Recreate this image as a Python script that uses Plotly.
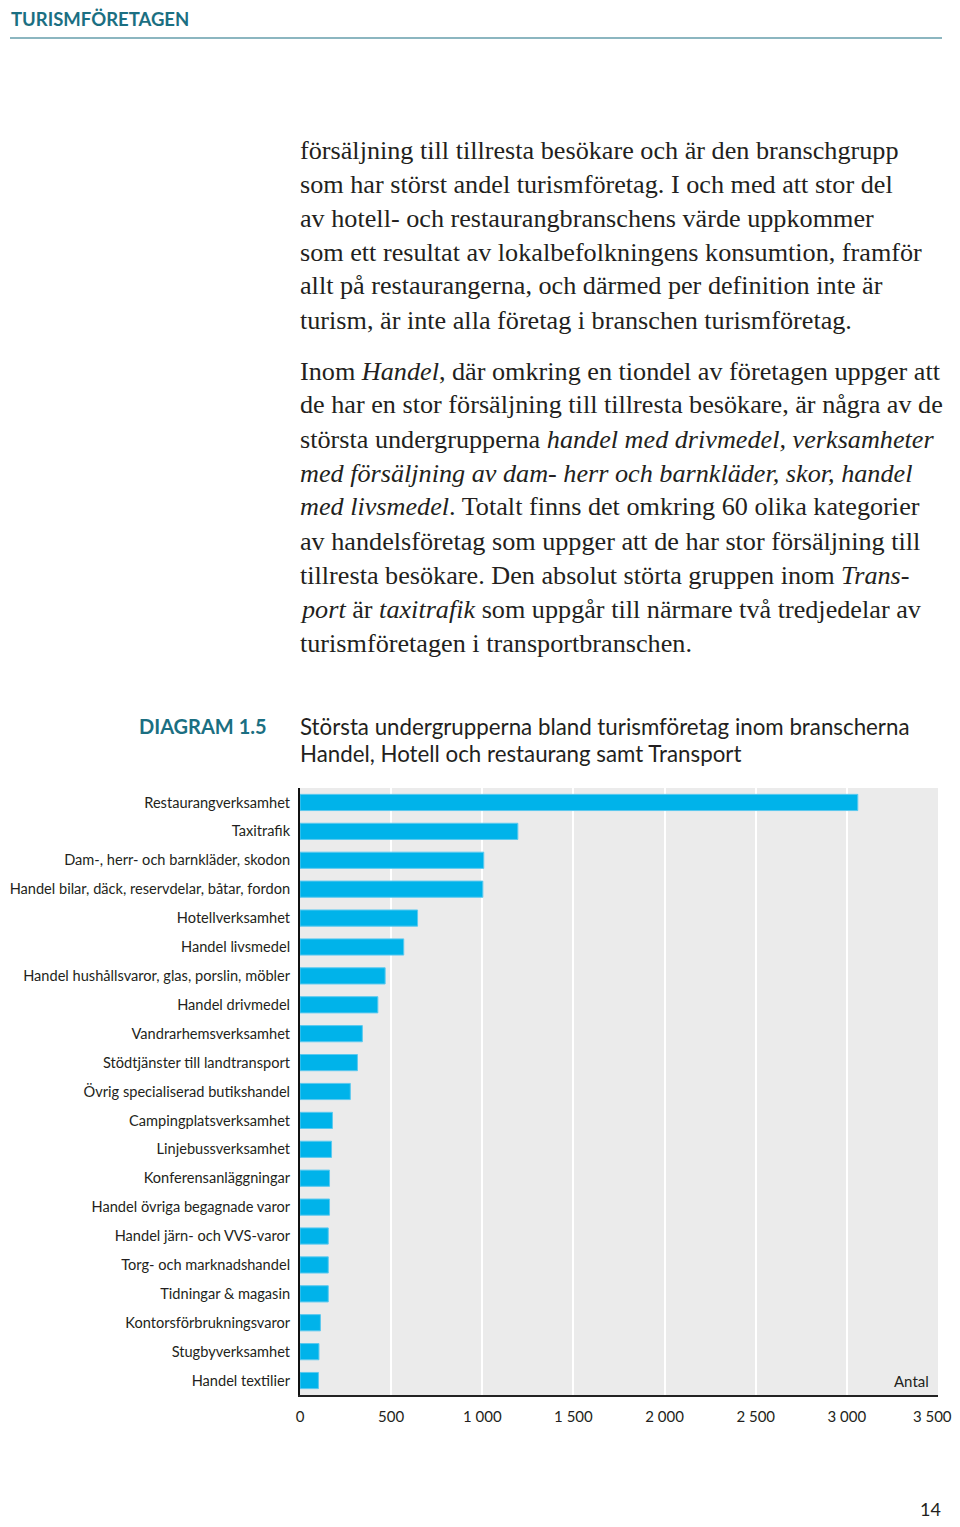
import plotly.graph_objects as go

categories = [
    "Restaurangverksamhet", "Taxitrafik", "Dam-, herr- och barnkläder, skodon",
    "Handel bilar, däck, reservdelar, båtar, fordon", "Hotellverksamhet",
    "Handel livsmedel", "Handel hushållsvaror, glas, porslin, möbler",
    "Handel drivmedel", "Vandrarhemsverksamhet", "Stödtjänster till landtransport",
    "Övrig specialiserad butikshandel", "Campingplatsverksamhet",
    "Linjebussverksamhet", "Konferensanläggningar", "Handel övriga begagnade varor",
    "Handel järn- och VVS-varor", "Torg- och marknadshandel", "Tidningar & magasin",
    "Kontorsförbrukningsvaror", "Stugbyverksamhet", "Handel textilier",
]
values = [3060, 1195, 1008, 1003, 645, 569, 467, 427, 342, 315, 276, 178, 173,
          162, 162, 155, 155, 155, 112, 104, 101]
tick_vals = [0, 500, 1000, 1500, 2000, 2500, 3000, 3500]
tick_text = ["0", "500", "1 000", "1 500", "2 000", "2 500", "3 000",
             "3 500&nbsp;&nbsp;&nbsp;"]

para1 = [
    "försäljning till tillresta besökare och är den branschgrupp",
    "som har störst andel turismföretag. I och med att stor del",
    "av hotell- och restaurangbranschens värde uppkommer",
    "som ett resultat av lokalbefolkningens konsumtion, framför",
    "allt på restaurangerna, och därmed per definition inte är",
    "turism, är inte alla företag i branschen turismföretag.",
]
para2 = [
    "Inom <i>Handel</i>, där omkring en tiondel av företagen uppger att",
    "de har en stor försäljning till tillresta besökare, är några av de",
    "största undergrupperna <i>handel med drivmedel, verksamheter</i>",
    "<i>med försäljning av dam- herr och barnkläder, skor, handel</i>",
    "<i>med livsmedel</i>. Totalt finns det omkring 60 olika kategorier",
    "av handelsföretag som uppger att de har stor försäljning till",
    "tillresta besökare. Den absolut störta gruppen inom <i>Trans-</i>",
    "<i>port</i> är <i>taxitrafik</i> som uppgår till närmare två tredjedelar av",
    "turismföretagen i transportbranschen.",
]
header = "TURISMFÖRETAGEN"
diagram_label = "DIAGRAM 1.5"
title_lines = ["Största undergrupperna bland turismföretag inom branscherna",
               "Handel, Hotell och restaurang samt Transport"]

# page body has an 8px margin; the figure is sized and placed to compensate
OFF = 8
W, H = 960 - 2 * OFF, 1527 - 2 * OFF
L, R, T, B = 300 - OFF, 938 - OFF, 788 - OFF, 1395 - OFF
TEAL = "#1b6f82"
TEXT = "#231f20"
SANS = "Lato, 'Open Sans', sans-serif"
SERIF = "'Liberation Serif', 'DejaVu Serif', serif"

def px(x):
    return (x - OFF - L) / (R - L)

def py(y):
    return (B - (y - OFF)) / (B - T)

fig = go.Figure(go.Bar(
    x=values, y=categories, orientation="h",
    marker=dict(color="#00b3ea", line=dict(color="#5cc9ef", width=1)),
    width=0.56, hoverinfo="x+y",
))

annotations = []
def add_text(x, y, text, size, color=TEXT, family=SERIF, xanchor="left"):
    annotations.append(dict(x=px(x), y=py(y), xref="paper", yref="paper",
                            text=text, showarrow=False, xanchor=xanchor,
                            yanchor="middle", font=dict(size=size, color=color, family=family)))

add_text(9, 19, "<b>" + header + "</b>", 18.5, TEAL, SANS)
for i, line in enumerate(para1):
    add_text(298, 150 + 34 * i, line, 26.2)
for i, line in enumerate(para2):
    add_text(298, 371 + 34 * i, line, 26.2)
add_text(269, 726, "<b>" + diagram_label + "</b>", 20, TEAL, SANS, "right")
for i, line in enumerate(title_lines):
    add_text(298, 726 + 27 * i, line, 22.3, TEXT, SANS)
add_text(931, 1381, "Antal", 15, TEXT, SANS, "right")
add_text(943, 1509, "14", 18, TEXT, SANS, "right")

fig.update_layout(
    width=W, height=H,
    margin=dict(l=L, r=W - R, t=T, b=H - B, pad=0, autoexpand=False),
    paper_bgcolor="white", plot_bgcolor="#ebebeb",
    showlegend=False,
    annotations=annotations,
    shapes=[dict(type="line", xref="paper", yref="paper",
                 x0=px(10), x1=px(942), y0=py(38), y1=py(38),
                 line=dict(color=TEAL, width=1.2))],
    xaxis=dict(range=[0, 3500], tickvals=tick_vals, ticktext=tick_text,
               showgrid=True, gridcolor="white", gridwidth=2,
               zeroline=False, showline=True, linecolor="#222", linewidth=2,
               ticks="", ticklabelstandoff=7, automargin=False,
               ticklabeloverflow="allow",
               tickfont=dict(size=15, color=TEXT, family=SANS), fixedrange=True),
    yaxis=dict(categoryorder="array", categoryarray=categories[::-1],
               range=[-0.5, len(categories) - 0.5], automargin=False,
               showgrid=False, zeroline=False, showline=True, linecolor="#111",
               linewidth=2, ticks="", ticklabelstandoff=5,
               ticklabeloverflow="allow",
               tickfont=dict(size=14.6, color=TEXT, family=SANS), fixedrange=True),
    bargap=0.44,
)

fig.write_html("out.html")
